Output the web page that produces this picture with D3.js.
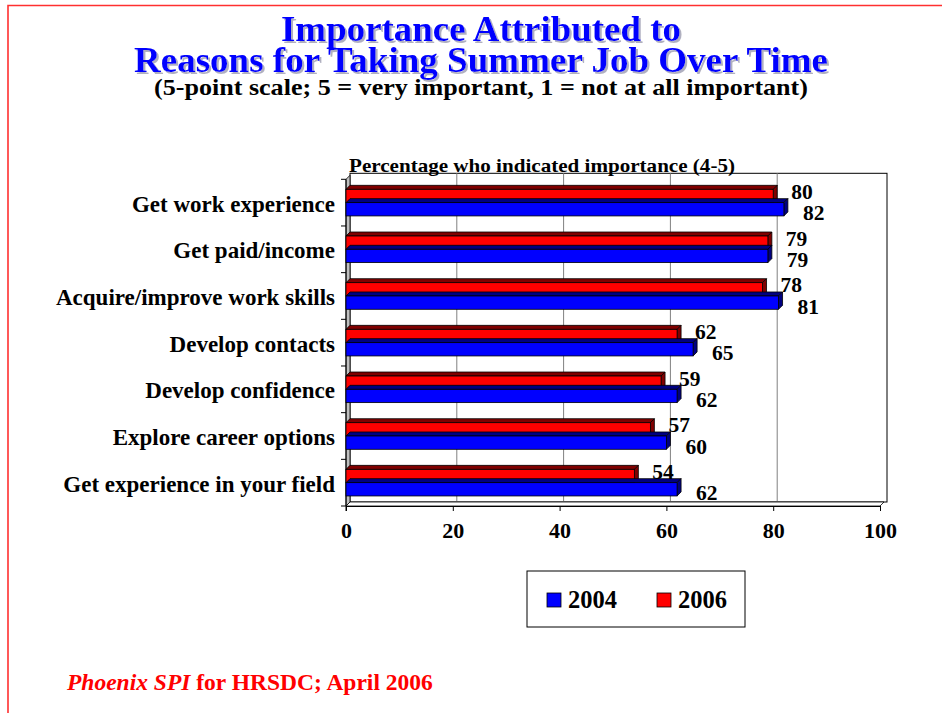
<!DOCTYPE html>
<html>
<head>
<meta charset="utf-8">
<script src="https://cdn.jsdelivr.net/npm/d3@7"></script>
<style>
  html, body { margin: 0; padding: 0; background: #fff; }
  svg { display: block; }
  text { font-family: "Liberation Serif", "Times New Roman", serif; font-weight: bold; }
</style>
</head>
<body>
<svg id="chart" width="942" height="713"></svg>
<script>
// Survey reasons and the share rating each one 4-5 on the 5-point scale
const categories = [
  "Get work experience",
  "Get paid/income",
  "Acquire/improve work skills",
  "Develop contacts",
  "Develop confidence",
  "Explore career options",
  "Get experience in your field"
];
const values2004 = [82, 79, 81, 65, 62, 60, 62];
const values2006 = [80, 79, 78, 62, 59, 57, 54];
const seriesNames = ["2004", "2006"];
const xTicks = [0, 20, 40, 60, 80, 100];

const svg = d3.select("#chart");

// grey drop shadow for the title
const defs = svg.append("defs");
const shadow = defs.append("filter").attr("id", "titleShadow")
  .attr("x", "-5%").attr("y", "-20%").attr("width", "110%").attr("height", "140%");
shadow.append("feOffset").attr("in", "SourceAlpha").attr("dx", 2).attr("dy", 2).attr("result", "off");
shadow.append("feFlood").attr("flood-color", "#b0b0c0").attr("result", "col");
shadow.append("feComposite").attr("in", "col").attr("in2", "off").attr("operator", "in").attr("result", "sh");
const merge = shadow.append("feMerge");
merge.append("feMergeNode").attr("in", "sh");
merge.append("feMergeNode").attr("in", "SourceGraphic");

// page frame
svg.append("path")
  .attr("d", "M8,713 V5.5 H942")
  .attr("fill", "none")
  .attr("stroke", "#ff3030")
  .attr("stroke-width", 1.6);

// titles
const titleLines = [
  { text: "Importance Attributed to", y: 41, len: 400 },
  { text: "Reasons for Taking Summer Job Over Time", y: 72, len: 694 }
];
svg.append("g").attr("filter", "url(#titleShadow)")
  .selectAll("text").data(titleLines).join("text")
  .attr("x", 481).attr("y", d => d.y)
  .attr("text-anchor", "middle")
  .attr("font-size", 36)
  .attr("fill", "#0000ff")
  .attr("textLength", d => d.len)
  .attr("lengthAdjust", "spacingAndGlyphs")
  .text(d => d.text);

svg.append("text")
  .attr("x", 481).attr("y", 95)
  .attr("text-anchor", "middle")
  .attr("font-size", 23)
  .attr("fill", "#000")
  .attr("textLength", 654)
  .attr("lengthAdjust", "spacingAndGlyphs")
  .text("(5-point scale; 5 = very important, 1 = not at all important)");

// plot geometry
const depth = 4;
const x = d3.scaleLinear().domain([0, 100]).range([346, 880]);
const y = d3.scaleBand().domain(categories).range([179.3, 506]);
const bw = y.bandwidth();
const sub = d3.scaleBand().domain(["2006", "2004"]).range([bw * 0.215, bw * 0.785]);
const bh = sub.bandwidth();
const yTop = y.range()[0], yBot = y.range()[1];

// back wall
svg.append("rect")
  .attr("x", x(0) + depth).attr("y", yTop - depth - 2)
  .attr("width", 887 - x(0) - depth).attr("height", yBot - yTop + 2)
  .attr("fill", "#fff").attr("stroke", "#000").attr("stroke-width", 1);

// vertical gridlines on the back wall
svg.append("g").selectAll("line")
  .data(xTicks.filter(v => v > 0 && v < 100))
  .join("line")
  .attr("x1", d => x(d) + depth).attr("x2", d => x(d) + depth)
  .attr("y1", yTop - depth - 2).attr("y2", yBot - depth)
  .attr("stroke", "#808080").attr("stroke-width", 1);

// side wall
svg.append("path")
  .attr("d", `M${x(0)},${yTop} L${x(0) + depth},${yTop - depth} L${x(0) + depth},${yBot - depth} L${x(0)},${yBot} Z`)
  .attr("fill", "#c0c0c0").attr("stroke", "#000").attr("stroke-width", 0.8);

// floor
svg.append("path")
  .attr("d", `M${x(0)},${yBot} L${x(0) + depth},${yBot - depth} L${x(100) + depth},${yBot - depth} L${x(100)},${yBot} Z`)
  .attr("fill", "#fff").attr("stroke", "#000").attr("stroke-width", 0.8);

// category axis
svg.append("line")
  .attr("x1", x(0)).attr("x2", x(0)).attr("y1", yTop).attr("y2", yBot + 5)
  .attr("stroke", "#000");
const catTicks = categories.map(c => y(c)).concat([yBot]);
svg.append("g").selectAll("line").data(catTicks).join("line")
  .attr("x1", x(0) - 5).attr("x2", x(0)).attr("y1", d => d).attr("y2", d => d)
  .attr("stroke", "#000");
svg.append("g").selectAll("text").data(categories).join("text")
  .attr("x", 335)
  .attr("y", d => y(d) + bw / 2 + 9)
  .attr("text-anchor", "end")
  .attr("font-size", 23)
  .text(d => d);

// value axis
const xAxis = d3.axisBottom(x).tickValues(xTicks).tickSize(5).tickPadding(11);
const gx = svg.append("g").attr("transform", `translate(0,${yBot})`).call(xAxis);
gx.select(".domain").attr("stroke", "#000").attr("stroke-width", 1);
gx.selectAll(".tick line").attr("stroke", "#000");
gx.selectAll(".tick text")
  .attr("font-family", "\"Liberation Serif\", \"Times New Roman\", serif")
  .attr("font-weight", "bold")
  .attr("font-size", 22)
  .attr("fill", "#000");

svg.append("text")
  .attr("x", 349).attr("y", 172)
  .attr("font-size", 19)
  .attr("textLength", 386)
  .attr("lengthAdjust", "spacingAndGlyphs")
  .text("Percentage who indicated importance (4-5)");

// 3D bars
const series = [
  { key: "2006", values: values2006, front: "#ff0000", dark: "#800000", dy: -4, dx: 14 },
  { key: "2004", values: values2004, front: "#0000ff", dark: "#000080", dy: 4, dx: 15 }
];
const rows = [];
series.forEach(s => categories.forEach((c, i) => rows.push({ s, c, v: s.values[i] })));

const bars = svg.append("g").selectAll("g").data(rows).join("g");
bars.each(function (d) {
  const g = d3.select(this);
  const x0 = x(0), x1 = x(d.v);
  const y0 = y(d.c) + sub(d.s.key), y1 = y0 + bh;
  g.append("path")
    .attr("d", `M${x0},${y0} L${x0 + depth},${y0 - depth} L${x1 + depth},${y0 - depth} L${x1},${y0} Z`)
    .attr("fill", d.s.dark).attr("stroke", "#000").attr("stroke-width", 0.8);
  g.append("path")
    .attr("d", `M${x1},${y0} L${x1 + depth},${y0 - depth} L${x1 + depth},${y1 - depth} L${x1},${y1} Z`)
    .attr("fill", d.s.dark).attr("stroke", "#000").attr("stroke-width", 0.8);
  g.append("rect")
    .attr("x", x0).attr("y", y0).attr("width", x1 - x0).attr("height", bh)
    .attr("fill", d.s.front).attr("stroke", "#000").attr("stroke-width", 0.8);
});

// blue bars sit in front of the red ones
bars.filter(d => d.s.key === "2004").raise();

// value labels
svg.append("g").selectAll("text").data(rows).join("text")
  .attr("x", d => x(d.v) + depth + d.s.dx)
  .attr("y", d => y(d.c) + sub(d.s.key) + bh / 2 + d.s.dy + 7)
  .attr("font-size", 21.5)
  .text(d => d.v);

// legend
const legend = svg.append("g");
legend.append("rect")
  .attr("x", 527).attr("y", 571).attr("width", 218).attr("height", 56)
  .attr("fill", "#fff").attr("stroke", "#000").attr("stroke-width", 1);
const legendColors = { "2004": "#0000ff", "2006": "#ff0000" };
seriesNames.forEach((name, i) => {
  const lx = 547 + i * 110;
  legend.append("rect")
    .attr("x", lx).attr("y", 593).attr("width", 14).attr("height", 14)
    .attr("fill", legendColors[name]).attr("stroke", "#000").attr("stroke-width", 0.8);
  legend.append("text")
    .attr("x", lx + 21).attr("y", 608)
    .attr("font-size", 24.5)
    .text(name);
});

// source line
const src = svg.append("text")
  .attr("x", 67).attr("y", 690)
  .attr("font-size", 23.5)
  .attr("fill", "#ff0000");
src.append("tspan").attr("font-style", "italic").text("Phoenix SPI");
src.append("tspan").text(" for HRSDC; April 2006");
</script>
</body>
</html>
